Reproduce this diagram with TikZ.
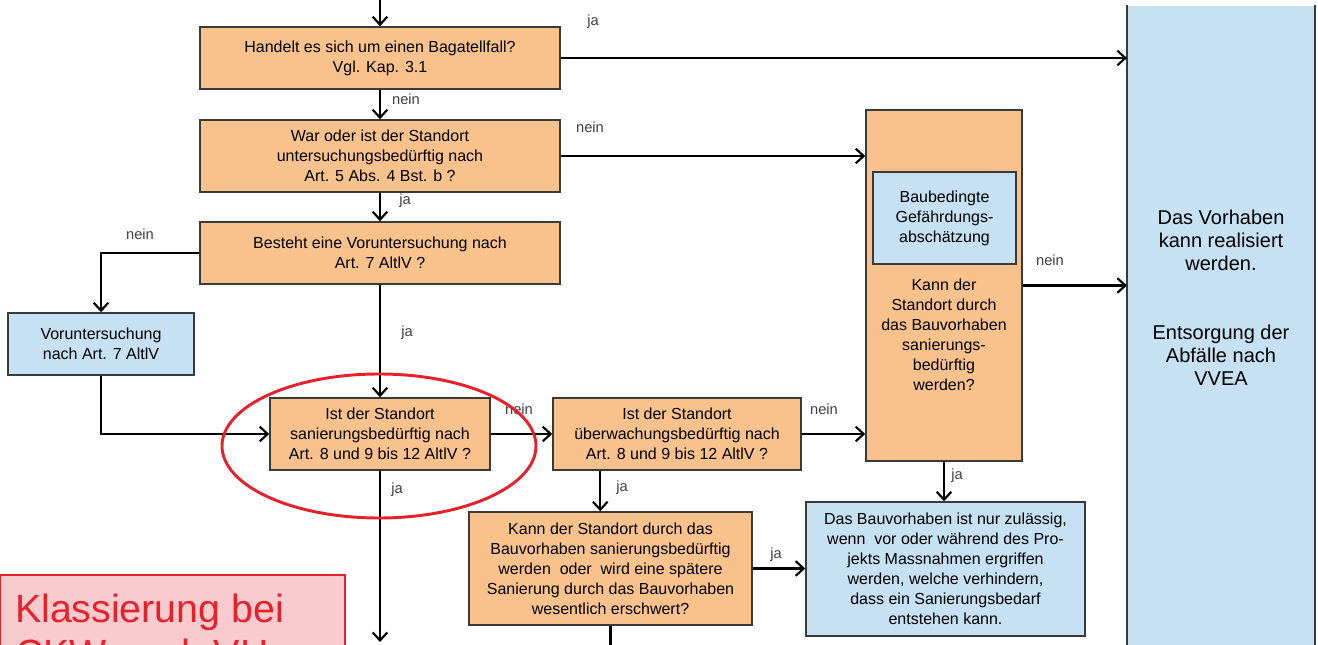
\documentclass[tikz,border=0pt]{standalone}
\usepackage{fontspec}
\setmainfont{Liberation Sans}
\usetikzlibrary{positioning,arrows.meta,calc}
\definecolor{boxorange}{HTML}{F9C28C}
\definecolor{boxblue}{HTML}{C5E1F3}
\definecolor{boxline}{HTML}{3A3A3A}
\definecolor{markred}{HTML}{E8202A}
\definecolor{markpink}{HTML}{F8CBCF}
\tikzset{
  ask/.style={rectangle, draw=boxline, line width=1.1pt, fill=boxorange, align=center, font=\fontsize{12}{15}\selectfont},
  info/.style={ask, fill=boxblue},
  lbl/.style={font=\fontsize{11}{13}\selectfont, text=black!75},
}

\begin{document}
\begin{tikzpicture}[->, x=0.75pt, y=-0.75pt, >={Straight Barb[length=6pt,width=11pt]}, line width=1.6pt]
  \useasboundingbox (0,0) rectangle (1318,645);
  \clip (0,0) rectangle (1318,645);
  \node[ask, minimum width=270pt, minimum height=46.5pt] (bagatell) at (380,58) {Handelt es sich um einen Bagatellfall?\\Vgl. Kap. 3.1};
  \node[ask, minimum width=270pt, minimum height=54pt] (unters) at (380,156) {War oder ist der Standort\\untersuchungsbedürftig nach\\Art. 5 Abs. 4 Bst. b ?};
  \node[ask, minimum width=270pt, minimum height=46.5pt] (vorfrage) at (380,253) {Besteht eine Voruntersuchung nach\\Art. 7 AltlV ?};
  \node[info, minimum width=139.5pt, minimum height=46.5pt] (vorunt) at (101,344) {Voruntersuchung\\nach Art. 7 AltlV};
  \node[ask, minimum width=165pt, minimum height=54pt] (saniert) at (380,434) {Ist der Standort\\sanierungsbedürftig nach\\Art. 8 und 9 bis 12 AltlV ?};
  \node[ask, minimum width=186pt, minimum height=54pt] (ueberw) at (677,434) {Ist der Standort\\überwachungsbedürftig nach\\Art. 8 und 9 bis 12 AltlV ?};
  \node[ask, minimum width=212.25pt, minimum height=84.75pt] (spaeter) at (610.5,568.5) {Kann der Standort durch das\\Bauvorhaben sanierungsbedürftig\\werden\ \ oder\ \ wird eine spätere\\Sanierung durch das Bauvorhaben\\wesentlich erschwert?};
  \node[info, minimum width=209.25pt, minimum height=100.5pt] (massn) at (945.5,569) {Das Bauvorhaben ist nur zulässig,\\wenn\ \ vor oder während des Pro-\\jekts Massnahmen ergriffen\\werden, welche verhindern,\\dass ein Sanierungsbedarf\\entstehen kann.};
  \node[ask, minimum width=117pt, minimum height=263.25pt] (baubed) at (944,285.5) {};
  \node[info, minimum width=107.25pt, minimum height=69pt] (gef) at (944.5,218) {Baubedingte\\Gefährdungs-\\abschätzung};
  \node[align=center, font=\fontsize{12}{15}\selectfont] (baubedtxt) at (944,335) {Kann der\\Standort durch\\das Bauvorhaben\\sanierungs-\\bedürftig\\werden?};
  \node[fill=boxblue, minimum width=139.5pt, minimum height=490.5pt] (ende) at (1221,333) {};
  \draw[-, boxline, line width=1.1pt] (ende.north west) -- (ende.south west) (ende.north east) -- (ende.south east);
  \node[align=center, font=\fontsize{15}{17.25}\selectfont] (endetxt) at (1221,298) {Das Vorhaben\\kann realisiert\\werden.\\[34.5pt]Entsorgung der\\Abfälle nach\\VVEA};
  \node[draw=markred, fill=markpink, line width=1.5pt, minimum width=258.75pt, minimum height=93.75pt] (klass) at (172.5,637.5) {};
  \node[anchor=north west, inner sep=0pt, align=left, text=markred, font=\fontsize{29.5}{34}\selectfont] (klasstxt) at (14,593) {Klassierung bei\\CKW nach VH};

  \coordinate (start) at (380,-5);
  \coordinate (unten) at (380,642);
  \coordinate (weiter) at (611,660);
  \coordinate (ueb) at ($(ueberw.south west)+(48,0)$);
  \path (start) edge (bagatell)
    (bagatell) edge (unters)
    (unters) edge (vorfrage)
    (vorfrage) edge (saniert)
    (saniert) edge (ueberw)
    (saniert) edge (unten)
    (ueb) edge (ueb |- spaeter.north)
    (spaeter.east) edge (spaeter.east -| massn.west)
    (baubed.south) edge (baubed.south |- massn.north);
  \path
    (bagatell.east) edge (bagatell.east -| ende.west)
    (unters.east) edge (unters.east -| baubed.west)
    (ueberw.east) edge (ueberw.east -| baubed.west)
    (baubed.east) edge (baubed.east -| ende.west);
  \draw (vorfrage.west) -| (vorunt.north);
  \draw (vorunt.south) |- (saniert.west);
  \draw[-] (spaeter.south) -- (spaeter.south |- weiter);

  \node[lbl] (l1) at (593,22) {ja};
  \node[lbl] (l2) at (406,99) {nein};
  \node[lbl] (l3) at (590,127) {nein};
  \node[lbl] (l4) at (405,201) {ja};
  \node[lbl] (l5) at (140,234) {nein};
  \node[lbl] (l6) at (407,333) {ja};
  \node[lbl] (l7) at (519,409) {nein};
  \node[lbl] (l8) at (397,490) {ja};
  \node[lbl] (l9) at (824,409) {nein};
  \node[lbl] (l10) at (622,488) {ja};
  \node[lbl] (l11) at (776,555) {ja};
  \node[lbl] (l12) at (957,476) {ja};
  \node[lbl] (l13) at (1050,260) {nein};

  \draw[-, markred, line width=2.2pt] (379,446) ellipse [x radius=117.75pt, y radius=54pt];
\end{tikzpicture}
\end{document}
